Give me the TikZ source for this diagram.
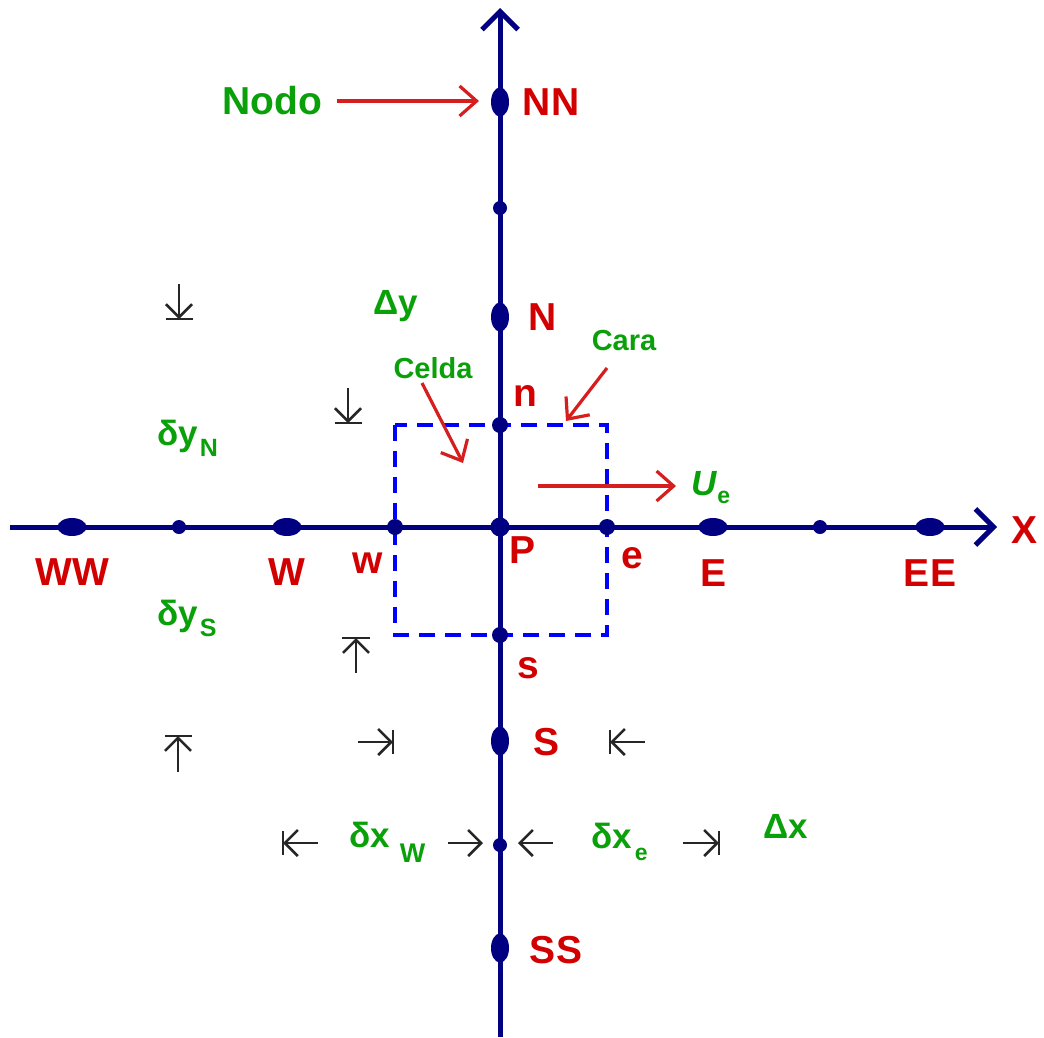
\documentclass[tikz,border=0pt]{standalone}
\usepackage{fontspec}
\setmainfont{Liberation Sans}
\usetikzlibrary{arrows.meta,shapes.geometric}
\definecolor{navy}{RGB}{0,0,128}
\definecolor{labred}{RGB}{210,0,0}
\definecolor{labgreen}{RGB}{10,160,10}
\definecolor{boxblue}{RGB}{0,0,255}
\definecolor{arrred}{RGB}{215,30,30}
\begin{document}
\begin{tikzpicture}[x=1pt,y=-1pt,
  axis/.style={draw=navy,line width=5,-{Straight Barb[length=18,width=36]}},
  hdot/.style={ellipse,fill=navy,inner sep=0,minimum width=29,minimum height=18},
  vdot/.style={ellipse,fill=navy,inner sep=0,minimum width=18,minimum height=29},
  cdot/.style={circle,fill=navy,inner sep=0,minimum size=16},
  sdot/.style={circle,fill=navy,inner sep=0,minimum size=14},
  lab/.style={text=labred,font=\fontsize{39}{42}\selectfont\bfseries,inner sep=0},
  glab/.style={text=labgreen,font=\fontsize{35}{38}\selectfont\bfseries,inner sep=0},
  slab/.style={text=labgreen,font=\fontsize{29}{32}\selectfont\bfseries,inner sep=0},
  redarr/.style={draw=arrred,line width=3.2,-{Straight Barb[length=17,width=30]}},
  dimarr/.style={draw=black!85,line width=2.6,-{Straight Barb[length=13,width=26]}},
  dimbar/.style={draw=black!85,line width=2.6},
  cellbox/.style={draw=boxblue,line width=4,dash pattern=on 16 off 10}
]
\useasboundingbox (0,0) rectangle (1044,1037);
% axes
\coordinate (xs) at (10,527);
\coordinate (xe) at (997,527);
\coordinate (ys) at (500,1037);
\coordinate (ye) at (500,8);
% cell
\draw[cellbox] (395,425) rectangle (607,635);
\draw[axis] (xs) -- (xe);
\draw[axis] (ys) -- (ye);
% nodes on x axis
\node[hdot] (WW) at (72,527) {};
\node[sdot] (xw2) at (179,527) {};
\node[hdot] (W) at (287,527) {};
\node[cdot] (w) at (395,527) {};
\node[circle,fill=navy,inner sep=0,minimum size=19] (P) at (500,527) {};
\node[cdot] (e) at (607,527) {};
\node[hdot] (E) at (713,527) {};
\node[sdot] (xe2) at (820,527) {};
\node[hdot] (EE) at (930,527) {};
% nodes on y axis
\node[vdot] (NN) at (500,102) {};
\node[sdot] (yn2) at (500,208) {};
\node[vdot] (N) at (500,317) {};
\node[cdot] (n) at (500,425) {};
\node[cdot] (s) at (500,635) {};
\node[vdot] (S) at (500,741) {};
\node[sdot] (ys2) at (500,845) {};
\node[vdot] (SS) at (500,948) {};
% red labels
\node[lab] (lNN) at (551,102) {NN};
\node[lab] (lN) at (543,317) {N};
\node[lab] (ln) at (525,396) {n};
\node[lab] (lP) at (522,550) {P};
\node[lab] (le) at (632,558) {e};
\node[lab] (lE) at (713,573) {E};
\node[lab] (lEE) at (930,573) {EE};
\node[lab] (lX) at (1024,530) {X};
\node[lab] (lWW) at (72,572) {WW};
\node[lab] (lW) at (287,572) {W};
\node[lab] (lw) at (368,563) {w};
\node[lab] (ls) at (528,668) {s};
\node[lab] (lS) at (546,742) {S};
\node[lab] (lSS) at (556,950) {SS};
% green labels
\node[glab,font=\fontsize{39}{42}\selectfont\bfseries] (nodo) at (272,101) {Nodo};
\node[glab] (dy) at (396,306) {Δy};
\node[slab] (celda) at (433,368) {Celda};
\node[slab] (cara) at (624,341) {Cara};
\node[glab,anchor=west] (dyN) at (157,438) {δy\hspace{2pt}\raisebox{-11pt}{\fontsize{25}{25}\selectfont N}};
\node[glab,anchor=west] (dyS) at (157,618) {δy\hspace{2pt}\raisebox{-11pt}{\fontsize{25}{25}\selectfont S}};
\node[glab,anchor=west] (Ue) at (691,488) {\itshape U\hspace{1pt}\upshape\raisebox{-8pt}{\fontsize{23}{23}\selectfont e}};
\node[glab,anchor=west] (dxW) at (349,842) {δx\hspace{10pt}\raisebox{-15pt}{\fontsize{27}{27}\selectfont W}};
\node[glab,anchor=west] (dxe) at (591,842) {δx\hspace{3pt}\raisebox{-12pt}{\fontsize{23}{23}\selectfont e}};
\node[glab] (dx) at (786,826) {Δx};
% red arrows
\coordinate (nodoS) at (337,101);
\coordinate (nodoT) at (479,101);
\draw[redarr] (nodoS) -- (nodoT);
\coordinate (celdaS) at (422,383);
\coordinate (celdaT) at (463,463);
\draw[redarr] (celdaS) -- (celdaT);
\coordinate (caraS) at (607,368);
\coordinate (caraT) at (566,421);
\draw[redarr] (caraS) -- (caraT);
\coordinate (ueS) at (538,486);
\coordinate (ueT) at (676,486);
\draw[redarr] (ueS) -- (ueT);
% dimension markers
\draw[dimarr] (179,284) -- (179,319);
\draw[dimbar] (166,319) -- (193,319);
\draw[dimarr] (348,388) -- (348,423);
\draw[dimbar] (335,423) -- (362,423);
\draw[dimarr] (356,673) -- (356,638);
\draw[dimbar] (342,638) -- (370,638);
\draw[dimarr] (178,772) -- (178,736);
\draw[dimbar] (165,736) -- (192,736);
\draw[dimarr] (358,742) -- (393,742);
\draw[dimbar] (393,730) -- (393,754);
\draw[dimarr] (645,742) -- (610,742);
\draw[dimbar] (610,730) -- (610,754);
\draw[dimarr] (318,843) -- (283,843);
\draw[dimbar] (283,831) -- (283,855);
\draw[dimarr] (448,843) -- (483,843);
\draw[dimarr] (553,843) -- (518,843);
\draw[dimarr] (683,843) -- (719,843);
\draw[dimbar] (719,831) -- (719,855);
\end{tikzpicture}
\end{document}
